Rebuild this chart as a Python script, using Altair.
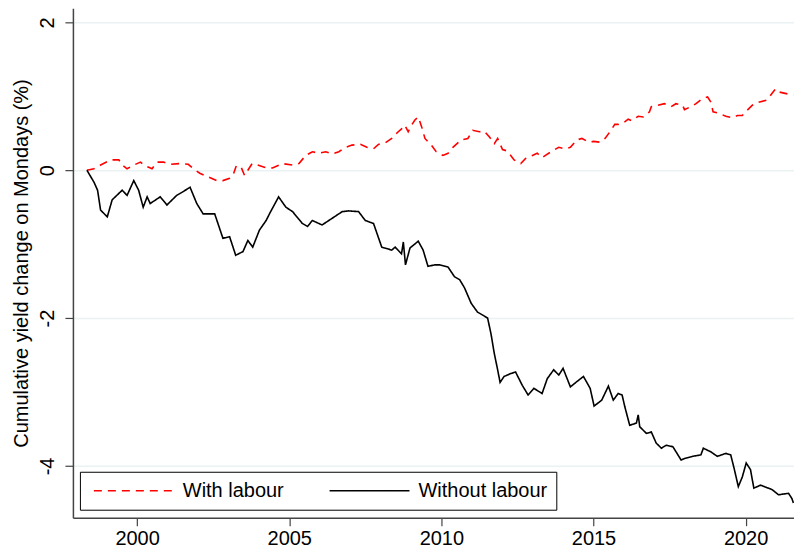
import altair as alt
import pandas as pd

# ---- data ----
series_names = ["With labour", "Without labour"]

years_with = [1998.35, 1998.58, 1998.80, 1999.13, 1999.40, 1999.51, 1999.67, 1999.89, 2000.11, 2000.22,
              2000.38, 2000.49, 2000.65, 2000.87, 2001.09, 2001.41, 2001.68, 2001.85, 2002.06, 2002.28,
              2002.61, 2002.82, 2003.04, 2003.15, 2003.26, 2003.42, 2003.53, 2003.64, 2003.78, 2003.96,
              2004.18, 2004.45, 2004.78, 2005.11, 2005.32, 2005.54, 2005.76, 2005.98, 2006.20, 2006.41,
              2006.63, 2006.85, 2007.06, 2007.34, 2007.55, 2007.77, 2007.93, 2008.15, 2008.37, 2008.53,
              2008.69, 2008.80, 2008.91, 2009.02, 2009.13, 2009.24, 2009.35, 2009.46, 2009.67, 2009.83,
              2010.05, 2010.22, 2010.38, 2010.65, 2010.87, 2011.03, 2011.25, 2011.41, 2011.58, 2011.74,
              2011.85, 2012.01, 2012.17, 2012.39, 2012.61, 2012.77, 2012.99, 2013.15, 2013.31, 2013.42,
              2013.64, 2013.86, 2014.07, 2014.24, 2014.45, 2014.62, 2014.84, 2015.00, 2015.21, 2015.38,
              2015.54, 2015.70, 2015.81, 2015.98, 2016.14, 2016.25, 2016.47, 2016.63, 2016.84, 2016.90,
              2017.12, 2017.33, 2017.55, 2017.71, 2017.93, 2017.99, 2018.20, 2018.37, 2018.58, 2018.75,
              2018.86, 2018.93, 2019.13, 2019.35, 2019.56, 2019.73, 2019.89, 2020.00, 2020.22, 2020.43,
              2020.70, 2020.87, 2020.98, 2021.08, 2021.41, 2021.57]
values_with = [0.00, 0.02, 0.07, 0.14, 0.14, 0.07, 0.02, 0.07, 0.11, 0.07,
               0.04, 0.02, 0.11, 0.11, 0.08, 0.09, 0.08, 0.02, -0.04, -0.08,
               -0.14, -0.14, -0.11, -0.07, 0.06, 0.04, -0.07, 0.00, 0.09, 0.07,
               0.04, 0.03, 0.09, 0.07, 0.09, 0.20, 0.25, 0.23, 0.25, 0.22,
               0.25, 0.31, 0.34, 0.35, 0.31, 0.29, 0.35, 0.37, 0.43, 0.50,
               0.56, 0.61, 0.52, 0.61, 0.68, 0.72, 0.59, 0.43, 0.34, 0.25,
               0.20, 0.23, 0.31, 0.41, 0.43, 0.54, 0.52, 0.53, 0.45, 0.36,
               0.43, 0.28, 0.26, 0.14, 0.09, 0.16, 0.20, 0.23, 0.17, 0.20,
               0.26, 0.31, 0.29, 0.31, 0.41, 0.43, 0.38, 0.39, 0.38, 0.43,
               0.52, 0.62, 0.62, 0.64, 0.69, 0.67, 0.73, 0.72, 0.79, 0.86,
               0.88, 0.90, 0.86, 0.90, 0.88, 0.82, 0.86, 0.90, 0.97, 0.99,
               0.92, 0.79, 0.77, 0.73, 0.71, 0.74, 0.74, 0.79, 0.88, 0.92,
               0.95, 1.04, 1.10, 1.06, 1.03, 1.02]

years_without = [1998.35, 1998.58, 1998.70, 1998.80, 1999.02, 1999.18, 1999.51, 1999.67, 1999.89, 2000.05,
                 2000.20, 2000.33, 2000.43, 2000.76, 2000.98, 2001.30, 2001.47, 2001.74, 2001.96, 2002.17,
                 2002.55, 2002.82, 2003.04, 2003.24, 2003.48, 2003.64, 2003.80, 2004.02, 2004.24, 2004.35,
                 2004.65, 2004.89, 2005.11, 2005.43, 2005.60, 2005.76, 2006.08, 2006.52, 2006.74, 2006.95,
                 2007.28, 2007.50, 2007.77, 2008.04, 2008.37, 2008.48, 2008.69, 2008.75, 2008.82, 2008.97,
                 2009.24, 2009.40, 2009.56, 2009.78, 2009.94, 2010.22, 2010.43, 2010.60, 2010.76, 2010.98,
                 2011.19, 2011.36, 2011.52, 2011.63, 2011.74, 2011.85, 2011.93, 2012.06, 2012.28, 2012.44,
                 2012.66, 2012.85, 2013.04, 2013.31, 2013.48, 2013.69, 2013.86, 2014.00, 2014.24, 2014.45,
                 2014.67, 2014.89, 2015.02, 2015.27, 2015.49, 2015.65, 2015.81, 2015.94, 2016.03, 2016.19,
                 2016.41, 2016.47, 2016.52, 2016.74, 2016.90, 2017.06, 2017.23, 2017.39, 2017.61, 2017.88,
                 2017.99, 2018.26, 2018.53, 2018.61, 2018.86, 2019.07, 2019.35, 2019.51, 2019.62, 2019.76,
                 2019.89, 2020.02, 2020.16, 2020.27, 2020.49, 2020.87, 2021.08, 2021.41, 2021.52, 2021.57]
values_without = [0.00, -0.16, -0.27, -0.54, -0.63, -0.40, -0.27, -0.34, -0.14, -0.27,
                  -0.50, -0.36, -0.45, -0.36, -0.47, -0.34, -0.30, -0.23, -0.45, -0.59,
                  -0.59, -0.92, -0.90, -1.15, -1.10, -0.95, -1.04, -0.81, -0.68, -0.59,
                  -0.36, -0.50, -0.56, -0.72, -0.76, -0.68, -0.74, -0.62, -0.56, -0.55,
                  -0.56, -0.68, -0.72, -1.04, -1.08, -1.04, -1.13, -0.97, -1.28, -1.05,
                  -0.96, -1.08, -1.30, -1.28, -1.28, -1.31, -1.44, -1.48, -1.59, -1.80,
                  -1.92, -1.96, -2.00, -2.21, -2.48, -2.70, -2.87, -2.79, -2.75, -2.73,
                  -2.91, -3.04, -2.95, -3.02, -2.82, -2.70, -2.77, -2.68, -2.93, -2.86,
                  -2.79, -2.95, -3.19, -3.11, -2.92, -3.11, -3.02, -3.04, -3.20, -3.45,
                  -3.42, -3.31, -3.47, -3.56, -3.54, -3.69, -3.76, -3.72, -3.74, -3.92,
                  -3.90, -3.87, -3.85, -3.76, -3.81, -3.87, -3.83, -3.85, -4.03, -4.28,
                  -4.15, -3.96, -4.05, -4.30, -4.26, -4.32, -4.39, -4.37, -4.44, -4.50]

x_ticks = [2000, 2005, 2010, 2015, 2020]
y_ticks = [-4, -2, 0, 2]
y_title = "Cumulative yield change on Mondays (%)"

df = pd.concat([
    pd.DataFrame({"year": years_with, "value": values_with, "series": series_names[0]}),
    pd.DataFrame({"year": years_without, "value": values_without, "series": series_names[1]}),
], ignore_index=True)

FONT = "Liberation Sans"

legend = alt.Legend(
    title=None,
    orient="none",
    legendX=7,
    legendY=464,
    direction="horizontal",
    strokeColor="#000000",
    fillColor="#ffffff",
    padding=9,
    cornerRadius=0,
    symbolType="M-1,0H15",
    symbolSize=100,
    symbolStrokeWidth=1.5,
    labelFont=FONT,
    labelFontSize=20,
    labelColor="#000000",
    labelOffset=74,
    columnPadding=40,
    labelLimit=300,
)

chart = alt.Chart(df).mark_line(strokeWidth=1.6, clip=True).encode(
    x=alt.X("year:Q",
            scale=alt.Scale(domain=[1997.89, 2021.59], nice=False, zero=False),
            axis=alt.Axis(values=x_ticks, format="d", title=None, grid=False,
                          tickSize=8, labelPadding=3, labelFontSize=20, labelFont=FONT,
                          labelColor="#000000", domainColor="#444444", tickColor="#444444",
                          domainWidth=1.5, tickWidth=1.2)),
    y=alt.Y("value:Q",
            scale=alt.Scale(domain=[-4.70, 2.19], nice=False, zero=False),
            axis=alt.Axis(values=y_ticks, title=y_title, grid=True, gridColor="#EAF2F3",
                          gridWidth=1.5, tickSize=8, labelAngle=270, labelAlign="center",
                          labelBaseline="bottom", labelPadding=7, labelExpr="'' + datum.value",
                          labelFontSize=20, labelFont=FONT, labelColor="#000000",
                          titleFont=FONT, titleFontSize=20, titleFontWeight="normal",
                          titleColor="#000000", titlePadding=6,
                          domainColor="#444444", tickColor="#444444",
                          domainWidth=1.5, tickWidth=1.2)),
    color=alt.Color("series:N",
                    scale=alt.Scale(domain=series_names, range=["#FF0000", "#000000"]),
                    legend=legend),
    strokeDash=alt.StrokeDash("series:N",
                              scale=alt.Scale(domain=series_names, range=[[8, 6], [1, 0]]),
                              legend=legend),
).properties(
    width=722,
    height=510,
    padding={"left": 4, "top": 0, "right": 0, "bottom": 0},
    background="#ffffff",
).configure_view(stroke=None)

chart.save("out.html", embed_options={"renderer": "svg", "actions": False})
